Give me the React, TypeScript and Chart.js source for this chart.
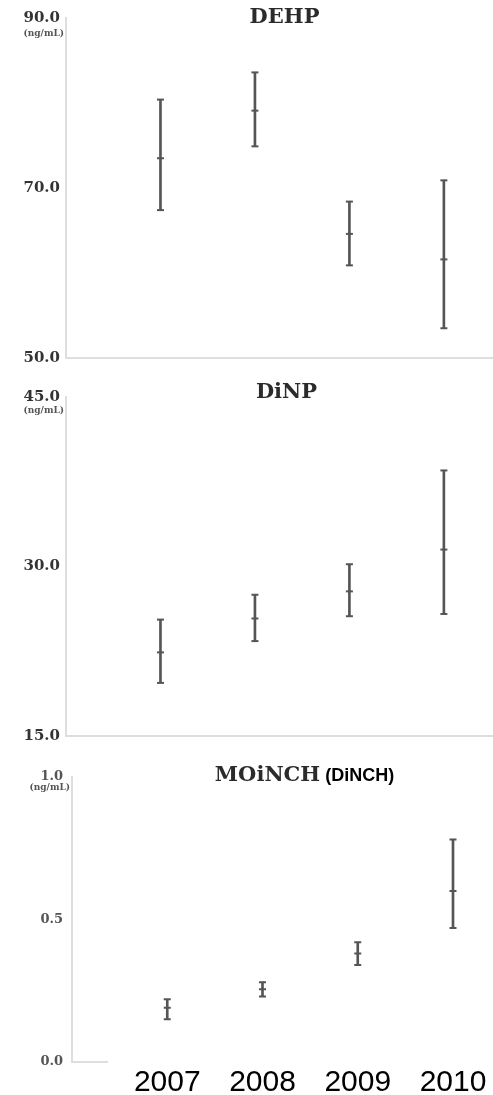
import React, { useEffect, useRef } from "react";
import { Chart, registerables } from "chart.js";

Chart.register(...registerables);

// ---- data ----
const years = [2007, 2008, 2009, 2010];

const dehpMean = [73.5, 79.1, 64.6, 61.6];
const dehpLow = [67.4, 74.9, 60.9, 53.5];
const dehpHigh = [80.4, 83.6, 68.4, 70.9];

const dinpMean = [22.4, 25.4, 27.8, 31.5];
const dinpLow = [19.7, 23.4, 25.6, 25.8];
const dinpHigh = [25.3, 27.5, 30.2, 38.5];

const dinchMean = [0.19, 0.255, 0.38, 0.6];
const dinchLow = [0.15, 0.23, 0.34, 0.47];
const dinchHigh = [0.22, 0.28, 0.42, 0.78];

const unitLabel = "(ng/mL)";

// ---- styles ----
const BAR = "#555555";
const AXIS = "#dedede";
const SERIF = '"DejaVu Serif", serif';
const SANS = '"Liberation Sans", Arial, sans-serif';

type PanelProps = {
  top: number;
  height: number;
  title: string;
  subtitle?: string;
  titleDx: number;
  titleDy: number;
  mean: number[];
  low: number[];
  high: number[];
  yMin: number;
  yMax: number;
  yStep: number;
  leftW: number;
  padTop: number;
  padBottom: number;
  xMax: number;
  showYears: boolean;
  xHeight: number;
  tickFont: number;
  tickColor: string;
  tickPad: number;
  unitDy: number;
};

function Panel(p: PanelProps) {
  const ref = useRef<HTMLCanvasElement | null>(null);

  useEffect(() => {
    const canvas = ref.current;
    if (!canvas) return;

    const overlay = {
      id: "overlay",
      afterDraw(chart: any) {
        const { ctx, chartArea } = chart;
        ctx.save();
        const cx = (chartArea.left + chartArea.right) / 2 + p.titleDx;
        const ty = chartArea.top + p.titleDy;
        ctx.fillStyle = "#2b2b2b";
        ctx.textBaseline = "middle";
        ctx.font = `bold 21px ${SERIF}`;
        const w1 = ctx.measureText(p.title).width;
        let w2 = 0;
        const gap = 5;
        if (p.subtitle) {
          ctx.font = `bold 18px ${SANS}`;
          w2 = ctx.measureText(p.subtitle).width + gap;
        }
        const start = cx - (w1 + w2) / 2;
        ctx.textAlign = "left";
        ctx.font = `bold 21px ${SERIF}`;
        ctx.fillText(p.title, start, ty);
        if (p.subtitle) {
          ctx.fillStyle = "#000";
          ctx.font = `bold 18px ${SANS}`;
          ctx.fillText(p.subtitle, start + w1 + gap, ty);
        }
        ctx.fillStyle = "#555";
        ctx.font = `bold 9px ${SERIF}`;
        ctx.textAlign = "right";
        ctx.fillText(unitLabel, chartArea.left - 2, chartArea.top + p.unitDy);
        if (p.showYears) {
          ctx.strokeStyle = AXIS;
          ctx.lineWidth = 2;
          ctx.beginPath();
          ctx.moveTo(chartArea.left, chartArea.bottom);
          ctx.lineTo(chartArea.left + 36, chartArea.bottom);
          ctx.stroke();
        }
        ctx.restore();
      },
    };

    const chart = new Chart(canvas, {
      type: "bar",
      data: {
        datasets: [
          {
            type: "bar",
            data: years.map((x, i) => ({ x, y: [p.low[i], p.high[i]] })) as any,
            backgroundColor: BAR,
            borderWidth: 0,
            barThickness: 2,
          },
          {
            type: "scatter",
            data: [
              ...years.map((x, i) => ({ x, y: p.low[i] })),
              ...years.map((x, i) => ({ x, y: p.high[i] })),
              ...years.map((x, i) => ({ x, y: p.mean[i] })),
            ],
            pointStyle: "line",
            pointRadius: 3.5,
            borderColor: BAR,
            backgroundColor: BAR,
            borderWidth: 2,
          } as any,
        ],
      },
      options: {
        responsive: false,
        animation: false,
        layout: {
          autoPadding: false,
          padding: { top: p.padTop, bottom: p.padBottom, left: 0, right: 0 },
        },
        plugins: {
          legend: { display: false },
          tooltip: { enabled: false },
          title: { display: false },
        },
        scales: {
          x: {
            type: "linear",
            min: 2006,
            max: p.xMax,
            offset: false,
            grid: { display: false },
            border: { display: !p.showYears, color: AXIS, width: 2 },
            afterBuildTicks: (s: any) => {
              s.ticks = years.map((v) => ({ value: v }));
            },
            afterFit: (s: any) => {
              s.height = p.xHeight;
            },
            ticks: {
              display: p.showYears,
              autoSkip: false,
              maxRotation: 0,
              padding: -5,
              color: "#000",
              font: { family: SANS, size: 30 },
              callback: (v: any) => String(v),
            },
          },
          y: {
            type: "linear",
            min: p.yMin,
            max: p.yMax,
            grid: { display: false, drawTicks: false },
            border: { display: true, color: AXIS, width: 2 },
            afterFit: (s: any) => {
              s.width = p.leftW;
            },
            ticks: {
              stepSize: p.yStep,
              padding: p.tickPad,
              color: p.tickColor,
              font: { family: SERIF, size: p.tickFont, weight: "bold" },
              callback: (v: any) => Number(v).toFixed(1),
            },
          },
        },
      },
      plugins: [overlay],
    } as any);

    return () => chart.destroy();
  }, []);

  return (
    <div
      style={{
        position: "absolute",
        left: 0,
        top: p.top,
        width: 493,
        height: p.height,
      }}
    >
      <canvas
        ref={ref}
        width={493}
        height={p.height}
        style={{ width: 493, height: p.height, display: "block" }}
      />
    </div>
  );
}

export default function App() {
  return (
    <div
      style={{
        position: "absolute",
        left: 0,
        top: 0,
        width: 493,
        height: 1095,
        background: "#fff",
        overflow: "hidden",
      }}
    >
      <Panel
        top={0}
        height={375}
        title="DEHP"
        titleDx={5}
        titleDy={0}
        mean={dehpMean}
        low={dehpLow}
        high={dehpHigh}
        yMin={50}
        yMax={90}
        yStep={20}
        leftW={66}
        padTop={18}
        padBottom={17}
        xMax={2010.52}
        showYears={false}
        xHeight={0}
        tickFont={15}
        tickColor="#333"
        tickPad={6}
        unitDy={16}
      />
      <Panel
        top={375}
        height={385}
        title="DiNP"
        titleDx={7}
        titleDy={-4}
        mean={dinpMean}
        low={dinpLow}
        high={dinpHigh}
        yMin={15}
        yMax={45}
        yStep={15}
        leftW={66}
        padTop={22}
        padBottom={24}
        xMax={2010.52}
        showYears={false}
        xHeight={0}
        tickFont={15}
        tickColor="#333"
        tickPad={6}
        unitDy={14}
      />
      <Panel
        top={760}
        height={335}
        title="MOiNCH"
        subtitle="(DiNCH)"
        titleDx={22}
        titleDy={-1}
        mean={dinchMean}
        low={dinchLow}
        high={dinchHigh}
        yMin={0}
        yMax={1}
        yStep={0.5}
        leftW={72}
        padTop={9}
        padBottom={0}
        xMax={2010.42}
        showYears={true}
        xHeight={33}
        tickFont={13}
        tickColor="#555"
        tickPad={9}
        unitDy={11}
      />
    </div>
  );
}
